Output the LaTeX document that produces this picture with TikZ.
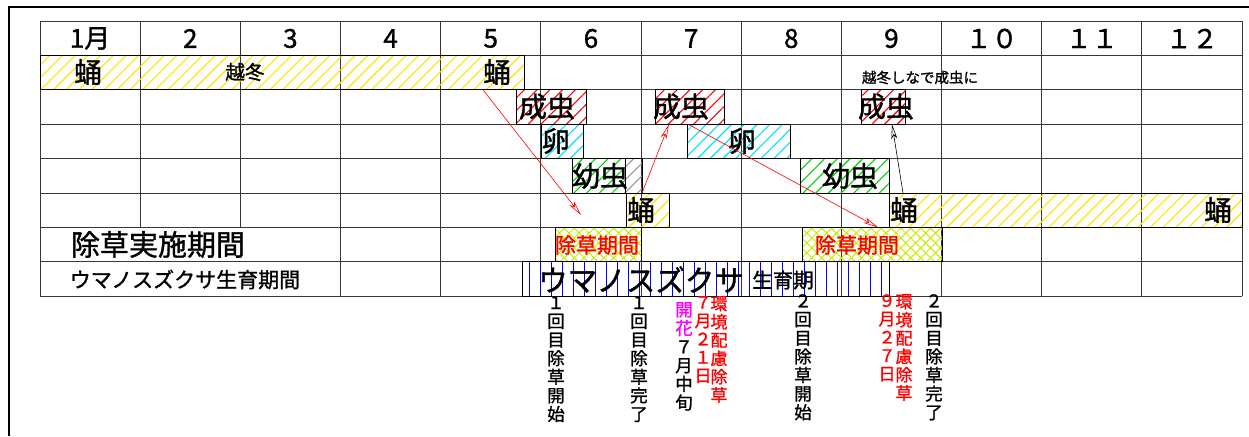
\documentclass[tikz,border=0pt]{standalone}
\usepackage{fontspec}
\setmainfont{Noto Sans CJK JP}[FakeBold=1.2]
\usetikzlibrary{patterns.meta,arrows.meta,calc}
\definecolor{hyellow}{RGB}{255,228,0}
\definecolor{hred}{RGB}{255,0,0}
\definecolor{hcyan}{RGB}{0,225,255}
\definecolor{hgreen}{RGB}{0,210,0}
\definecolor{hgray}{RGB}{150,150,150}
\definecolor{hlime}{RGB}{200,235,0}
\definecolor{gridc}{RGB}{55,55,55}
\definecolor{hmag}{RGB}{255,0,255}
\definecolor{hblue}{RGB}{0,0,255}
\tikzset{
  gridline/.style={draw=gridc,line width=0.9pt},
  barbox/.style={draw=black,line width=0.9pt,rectangle,inner sep=0pt,outer sep=0pt,minimum height=34.4},
  hy/.style={pattern={Lines[angle=45,distance=9pt,line width=1.1pt]},pattern color=hyellow},
  hr/.style={pattern={Lines[angle=45,distance=9pt,line width=1.1pt]},pattern color=hred},
  hc/.style={pattern={Lines[angle=45,distance=9pt,line width=1.1pt]},pattern color=hcyan},
  hg/.style={pattern={Lines[angle=45,distance=9pt,line width=1.1pt]},pattern color=hgreen},
  hk/.style={pattern={Lines[angle=45,distance=9pt,line width=1.1pt]},pattern color=hgray},
  hx/.style={pattern={Hatch[angle=45,distance=7pt,line width=1pt]},pattern color=hlime},
  hu/.style={},
  big/.style={inner sep=0pt,font=\fontsize{28}{28}\selectfont},
  hdr/.style={inner sep=0pt,font=\fontsize{26}{26}\selectfont},
  mid/.style={inner sep=0pt,font=\fontsize{19.5}{19.5}\selectfont},
  small/.style={inner sep=0pt,font=\fontsize{14.5}{14.5}\selectfont},
  vtext/.style={inner sep=0pt,anchor=north,align=center,font=\fontsize{17.5}{18.6}\selectfont},
  vred/.style={inner sep=0pt,anchor=north,align=center,text=hred,font=\fontsize{17}{18.3}\selectfont},
  arr/.style={-{Stealth[open,length=15pt,width=6pt,inset=4pt]},line width=0.6pt},
}
\newcommand\mkbar[5]{\node[barbox,#5,minimum width={#3-#2},anchor=north west] (#1) at (#2,{21+34.4*#4}) {};}
\begin{document}
\begin{tikzpicture}[x=1pt,y=-1pt]
\useasboundingbox (0,0) rectangle (1249,436);
% outer frame
\draw[line width=1.6pt] (9,436) -- (9,7) -- (1249,7);
% grid
\foreach \r in {0,...,8} \draw[gridline] (40,{21+34.4*\r}) -- (1242,{21+34.4*\r});
\foreach \c in {0,3,4,5,6,7,8,9,10,11,12} \draw[gridline] ({40+100.17*\c},21) -- ({40+100.17*\c},296.2);
\foreach \c in {1,2} \draw[gridline] ({40+100.17*\c},21) -- ({40+100.17*\c},227.4);
% header
\foreach \t [count=\c] in {1月,2,3,4,5,6,7,8,9,１０,１１,１２}
  \node[hdr] (h\c) at ({40+100.17*(\c-0.5)},38.5) {\t};
% bars
\mkbar{p1}{40}{524}{1}{hy}
\mkbar{a1}{516}{586}{2}{hr}
\mkbar{a2}{655}{724}{2}{hr}
\mkbar{a3}{861}{905}{2}{hr}
\mkbar{e1}{541}{583}{3}{hc}
\mkbar{e2}{687}{790}{3}{hc}
\mkbar{l1}{572}{625}{4}{hg}
\mkbar{lg}{625}{642}{4}{hk}
\mkbar{l2}{800}{889}{4}{hg}
\mkbar{p2}{626}{669}{5}{hy}
\mkbar{p3}{889}{1242}{5}{hy}
\mkbar{w1}{555}{641}{6}{hx}
\mkbar{w2}{802}{942}{6}{hx}
\mkbar{u}{522}{889}{7}{hu}
\foreach \i in {0,...,32}
  \draw[hblue,line width=0.9pt] ([xshift={7+11*\i}]u.north west) -- ([xshift={7+11*\i}]u.south west);
\draw[line width=0.9pt] (u.north west) rectangle (u.south east);
% bar texts
\node[big] (tp1a) at (88,72) {蛹};
\node[mid] (tp1b) at (245,72) {越冬};
\node[big] (tp1c) at (497,72) {蛹};
\node[small] (tover) at (920,77.5) {越冬しなで成虫に};
\node[big] (ta1) at (547,106.5) {成虫};
\node[big] (ta2) at (681,106.5) {成虫};
\node[big] (ta3) at (886,106.5) {成虫};
\node[big] (te1) at (556,141) {卵};
\node[big] (te2) at (742,141) {卵};
\node[big] (tl1) at (600,176) {幼虫};
\node[big] (tl2) at (850,176) {幼虫};
\node[big] (tp2) at (641,210) {蛹};
\node[big] (tp3a) at (904,210) {蛹};
\node[big] (tp3b) at (1218,210) {蛹};
\node[inner sep=0pt,text=hred,font=\fontsize{21}{21}\selectfont] (tw1) at (597,245) {除草期間};
\node[inner sep=0pt,text=hred,font=\fontsize{21}{21}\selectfont] (tw2) at (857,245) {除草期間};
\node[inner sep=0pt,font=\fontsize{29.5}{29.5}\selectfont] (tu1) at (641,279.5) {ウマノスズクサ};
\node[inner sep=0pt,font=\fontsize{20.5}{20.5}\selectfont] (tu2) at (783,280) {生育期};
% row labels
\node[inner sep=0pt,font=\fontsize{29}{29}\selectfont] (lab1) at (158,244.5) {除草実施期間};
\node[inner sep=0pt,font=\fontsize{21}{21}\selectfont] (lab2) at (185,279.5) {ウマノスズクサ生育期間};
% arrows
\coordinate (t1) at (581,215);
\coordinate (t3) at (878,227.4);
\draw[arr,hred] ($(p1.south west)+(443,0)$) -- (t1);
\draw[arr,hred] ($(p2.north west)+(16,0)$) -- ($(a2.south west)+(14,0)$);
\draw[arr,hred] ($(a2.south west)+(33,0)$) -- (t3);
\draw[arr,black] ($(p3.north west)+(14,0)$) -- ($(a3.south west)+(31,0)$);
% vertical notes
\node[vtext] (n1) at (556,296) {１\\回\\目\\除\\草\\開\\始};
\node[vtext] (n2) at (639,296) {１\\回\\目\\除\\草\\完\\了};
\node[vtext] (n3) at (684,302) {\textcolor{hmag}{開}\\\textcolor{hmag}{花}\\７\\月\\中\\旬};
\node[vred] (n4) at (703,296) {７\\月\\２\\１\\日};
\node[vred] (n5) at (719,296) {環\\境\\配\\慮\\除\\草};
\node[vtext] (n6) at (803,294) {２\\回\\目\\除\\草\\開\\始};
\node[vred] (n7) at (887,294) {９\\月\\２\\７\\日};
\node[vred] (n8) at (904,294) {環\\境\\配\\慮\\除\\草};
\node[vtext] (n9) at (934,294) {２\\回\\目\\除\\草\\完\\了};
\end{tikzpicture}
\end{document}
